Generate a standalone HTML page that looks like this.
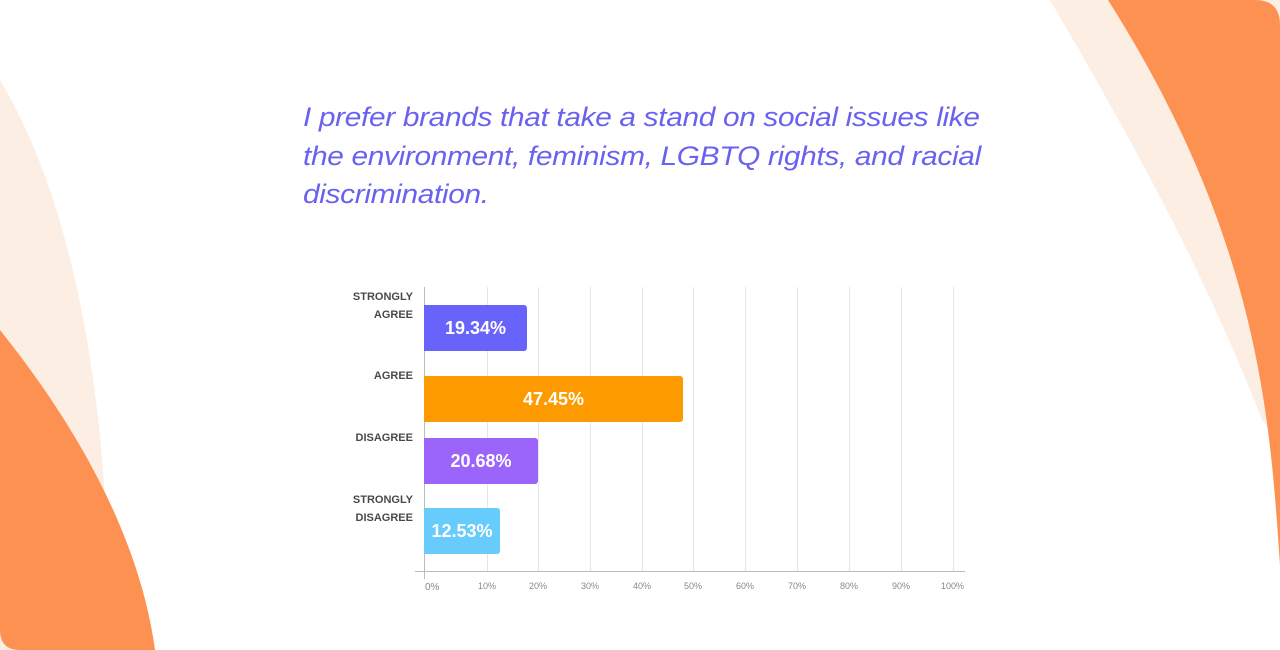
<!DOCTYPE html>
<html><head><meta charset="utf-8"><style>
html,body{margin:0;padding:0;background:#fff;}
body{width:1280px;height:650px;position:relative;overflow:hidden;font-family:"Liberation Sans",sans-serif;}
.t{position:absolute;left:303px;font-style:italic;font-size:27px;color:#6a62ee;white-space:nowrap;letter-spacing:-0.3px;transform:scaleX(1.105);transform-origin:0 0;}
.lab{position:absolute;right:867px;text-align:right;font-size:11px;font-weight:bold;color:#4a4a4a;line-height:18px;}
.bar{position:absolute;left:424px;height:46px;border-radius:0 3px 3px 0;color:#fff;font-weight:bold;font-size:18px;line-height:46px;text-align:center;}
.g{position:absolute;top:287px;height:285px;width:1px;background:#e6e6e6;}
.tk{position:absolute;top:581px;font-size:9px;color:#888;}
</style></head><body>
<svg width="1280" height="650" style="position:absolute;left:0;top:0">
<path d="M0 80 C60 180 95 330 105 500 L105 650 L0 650 Z" fill="#fdeee4"/>
<path d="M0 330 C80 430 140 540 155 650 L20 650 Q0 650 0 630 Z" fill="#fd9152"/>
<path d="M1050 0 L1280 0 L1280 440 L1262 420 C1200 260 1120 120 1050 0 Z" fill="#fdeee4"/>
<path d="M1108 0 L1255 0 Q1280 0 1280 25 L1280 565 C1270 420 1260 240 1108 0 Z" fill="#fd9152"/>
</svg>
<div class="t" style="top:102px">I prefer brands that take a stand on social issues like</div>
<div class="t" style="top:141px">the environment, feminism, LGBTQ rights, and racial</div>
<div class="t" style="top:179px">discrimination.</div>

<div class="g" style="left:487px"></div><div class="g" style="left:538px"></div><div class="g" style="left:590px"></div>
<div class="g" style="left:642px"></div><div class="g" style="left:693px"></div><div class="g" style="left:745px"></div>
<div class="g" style="left:797px"></div><div class="g" style="left:849px"></div><div class="g" style="left:901px"></div>
<div class="g" style="left:953px"></div>
<div style="position:absolute;left:424px;top:287px;width:1px;height:292px;background:#bbb"></div>
<div style="position:absolute;left:415px;top:571px;width:550px;height:1px;background:#bbb"></div>

<div class="lab" style="top:288px">STRONGLY<br>AGREE</div>
<div class="lab" style="top:367px">AGREE</div>
<div class="lab" style="top:429px">DISAGREE</div>
<div class="lab" style="top:491px">STRONGLY<br>DISAGREE</div>

<div class="bar" style="top:305px;width:103px;background:#6763fb">19.34%</div>
<div class="bar" style="top:376px;width:259px;background:#fd9a00">47.45%</div>
<div class="bar" style="top:438px;width:114px;background:#9b65fb">20.68%</div>
<div class="bar" style="top:508px;width:76px;background:#67cbfc">12.53%</div>

<div class="tk" style="left:425px;font-size:10px;top:582px">0%</div>
<div class="tk" style="left:478px">10%</div><div class="tk" style="left:529px">20%</div><div class="tk" style="left:581px">30%</div>
<div class="tk" style="left:633px">40%</div><div class="tk" style="left:684px">50%</div><div class="tk" style="left:736px">60%</div>
<div class="tk" style="left:788px">70%</div><div class="tk" style="left:840px">80%</div><div class="tk" style="left:892px">90%</div>
<div class="tk" style="left:941px">100%</div>
</body></html>
